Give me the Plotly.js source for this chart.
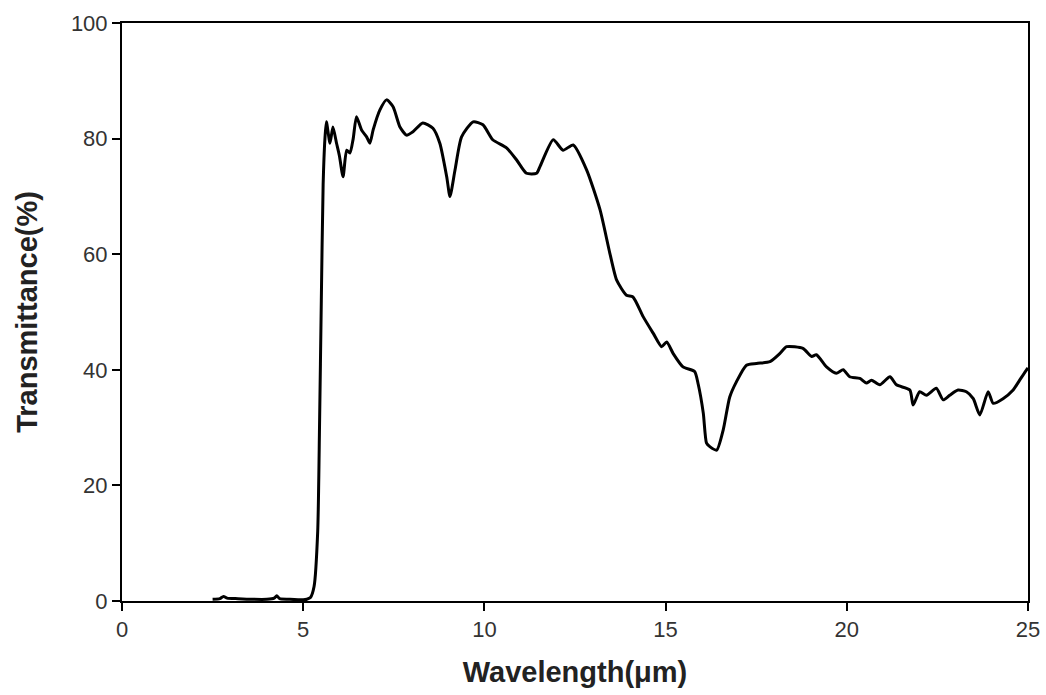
<!DOCTYPE html>
<html>
<head>
<meta charset="utf-8">
<script src="https://cdn.plot.ly/plotly-3.0.1.min.js"></script>
<style>html,body{margin:0;padding:0;background:#fff;}#chart{width:1046px;height:695px;}</style>
</head>
<body>
<div id="chart"></div>
<script>
const wavelength = [2.5,2.7,2.8,2.9,3.2,3.6,4.0,4.2,4.27,4.35,4.6,5.0,5.1,5.2,5.3,5.4,5.45,5.5,5.55,5.6,5.64,5.74,5.82,5.92,6.0,6.1,6.2,6.29,6.38,6.47,6.61,6.75,6.84,6.93,7.12,7.3,7.48,7.67,7.85,8.03,8.3,8.58,8.77,8.96,9.05,9.19,9.37,9.69,9.96,10.23,10.61,10.89,11.16,11.44,11.53,11.9,12.17,12.45,12.82,13.19,13.46,13.65,13.92,14.1,14.38,14.66,14.89,15.03,15.21,15.48,15.8,15.9,16.04,16.13,16.22,16.41,16.59,16.77,16.96,17.23,17.51,17.88,18.15,18.34,18.79,19.03,19.16,19.44,19.71,19.9,20.08,20.36,20.54,20.68,20.91,21.19,21.37,21.74,21.83,22.01,22.2,22.47,22.66,22.84,23.07,23.3,23.49,23.67,23.9,24.04,24.31,24.59,24.77,24.96,25.0];
const transmittance = [0.3,0.4,0.8,0.5,0.4,0.3,0.3,0.5,0.9,0.4,0.3,0.2,0.3,0.6,2.5,12,30,52,72,80,82.9,79.2,82,79.2,77,73.4,78,77.5,80,83.8,81.5,80.3,79.2,81.5,85,86.7,85.5,82,80.6,81.2,82.7,81.8,79.2,73.4,70,74.6,80.3,82.9,82.4,79.8,78.4,76.3,74,74,75.1,79.8,78,78.9,74.6,67.7,60.2,55.5,52.9,52.6,49.2,46.3,44,44.8,42.8,40.5,39.7,37.5,32.5,27.3,26.7,26.1,29.6,35.3,38,40.8,41.1,41.4,42.8,44,43.7,42.3,42.6,40.5,39.4,40,38.8,38.5,37.7,38.2,37.4,38.8,37.4,36.5,33.9,36.2,35.6,36.8,34.8,35.6,36.5,36.2,35,32.2,36.2,34.2,35,36.5,38.2,40,40.3];
const xTicks = [0,5,10,15,20,25];
const yTicks = [0,20,40,60,80,100];

const tickFont = {family: 'Liberation Sans, Arial, sans-serif', size: 22, color: '#333'};
const titleFont = {family: 'Liberation Sans, Arial, sans-serif', size: 29, color: '#222', weight: 'bold'};

Plotly.newPlot('chart', [{
  x: wavelength, y: transmittance, type: 'scatter', mode: 'lines',
  line: {color: '#000', width: 3, shape: 'spline', smoothing: 0.6},
  hoverinfo: 'skip', showlegend: false
}], {
  width: 1046, height: 695,
  margin: {l: 122, r: 18, t: 23, b: 94},
  paper_bgcolor: '#fff', plot_bgcolor: '#fff',
  xaxis: {
    range: [0, 25], tickvals: xTicks, ticktext: xTicks.map(String),
    showgrid: false, zeroline: false, showline: true, mirror: true,
    linecolor: '#000', linewidth: 2, ticks: 'outside', ticklen: 8, tickwidth: 2, tickcolor: '#000',
    tickfont: tickFont,
    title: {text: '<b>Wavelength(μm)</b>', font: titleFont, standoff: 20}
  },
  yaxis: {
    range: [0, 100], tickvals: yTicks, ticktext: yTicks.map(String),
    showgrid: false, zeroline: false, showline: true, mirror: true,
    linecolor: '#000', linewidth: 2, ticks: 'outside', ticklen: 8, tickwidth: 2, tickcolor: '#000',
    tickfont: tickFont,
    title: {text: '<b>Transmittance(%)</b>', font: titleFont, standoff: 25}
  }
}, {displayModeBar: false, staticPlot: true});
</script>
</body>
</html>
